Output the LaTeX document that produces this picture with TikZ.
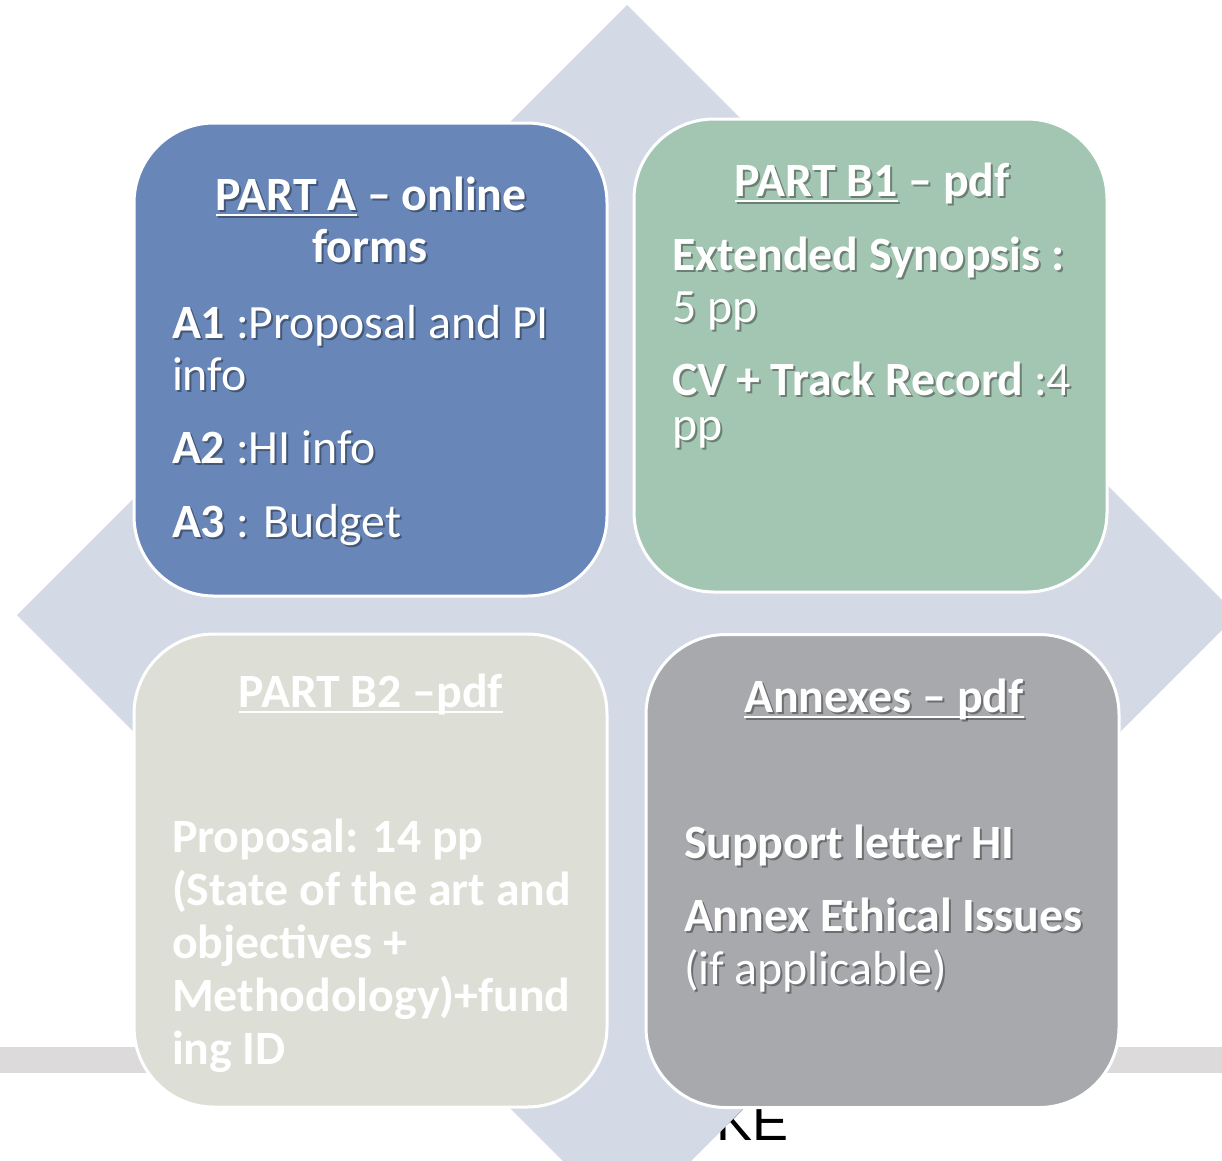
\documentclass[tikz,border=0pt]{standalone}
\usepackage{fontspec}
\setmainfont{Carlito}
\newfontfamily\kefont{Liberation Sans}
\usetikzlibrary{calc}
\definecolor{diamc}{HTML}{D3D9E5}
\definecolor{cardA}{HTML}{6886B8}
\definecolor{cardB}{HTML}{A3C6B2}
\definecolor{cardC}{HTML}{DDDED6}
\definecolor{cardD}{HTML}{A8A9AD}
\definecolor{barc}{HTML}{DCDADB}
\newcommand\myul[1]{\setbox0\hbox{#1}\rlap{\rule[-6pt]{\wd0}{2.5pt}}\box0\relax}
\tikzset{
  txt/.style={inner sep=0pt, outer sep=0pt, text=white, font=\fontsize{47.8}{56}\selectfont},
  shd/.style={txt, text=black, opacity=0.35},
  card/.style={rectangle, rounded corners=80pt, draw=white, line width=3pt,
    minimum width=473pt, minimum height=473pt, inner sep=0pt, outer sep=0pt},
}
% shadowed text line: name, anchor, position, text
\newcommand\tls[4]{%
  \node[shd, anchor=#2] (#1s) at ($(#3)+(2,2)$) {#4};
  \node[txt, anchor=#2] (#1) at (#3) {#4};}
% plain text line
\newcommand\tlp[4]{%
  \node[txt, anchor=#2] (#1) at (#3) {#4};}
\begin{document}
\begin{tikzpicture}[x=1pt, y=-1pt]
\useasboundingbox (0,0) rectangle (1222,1160);
\clip (0,0) rectangle (1222,1160);
% grey bar
\fill[barc] (0,1047) rectangle (1222,1073);
% partly hidden text
\node[inner sep=0pt, anchor=base east, font=\kefont\fontsize{54}{60}\selectfont, text=black] (ke) at (789,1140) {KE};
% diamond
\fill[diamc] (627,5) -- (1237,615) -- (627,1225) -- (17,615) -- cycle;
% cards
\node[card, fill=cardA] (A) at (370.5,359.5) {};
\node[card, fill=cardB] (B1) at (870.5,355.5) {};
\node[card, fill=cardC] (B2) at (370.5,870.5) {};
\node[card, fill=cardD] (AN) at (882.5,871) {};
% PART A
\tls{a0}{base}{371,210}{\bfseries\myul{PART A} – online}
\tls{a1}{base}{370,262}{\bfseries forms}
\tls{a2}{base west}{172,338}{\textbf{A1} :Proposal and PI}
\tls{a3}{base west}{172,390}{info}
\tls{a4}{base west}{172,463}{\textbf{A2} :HI info}
\tls{a5}{base west}{172,537}{\textbf{A3} : Budget}
% PART B1
\tls{b0}{base}{872,196}{\bfseries\myul{PART B1} – pdf}
\tls{b1}{base west}{672,270}{\bfseries Extended Synopsis :}
\tls{b2}{base west}{672,322}{5 pp}
\tls{b3}{base west}{672,395}{\textbf{CV + Track Record} :4}
\tls{b4}{base west}{672,440}{pp}
% PART B2
\tlp{c0}{base}{371,707}{\bfseries\myul{PART B2 –pdf}}
\tlp{c1}{base west}{172,852}{\bfseries Proposal: 14 pp}
\tlp{c2}{base west}{172,905}{\bfseries (State of the art and}
\tlp{c3}{base west}{172,958}{\bfseries objectives +}
\tlp{c4}{base west}{172,1011}{\bfseries Methodology)+fund}
\tlp{c5}{base west}{172,1064}{\bfseries ing ID}
% Annexes
\tls{d0}{base}{884,712}{\bfseries\myul{Annexes – pdf}}
\tls{d1}{base west}{684,858}{\bfseries Support letter HI}
\tls{d2}{base west}{684,931}{\bfseries Annex Ethical Issues}
\tls{d3}{base west}{684,984}{(if applicable)}
\end{tikzpicture}
\end{document}
